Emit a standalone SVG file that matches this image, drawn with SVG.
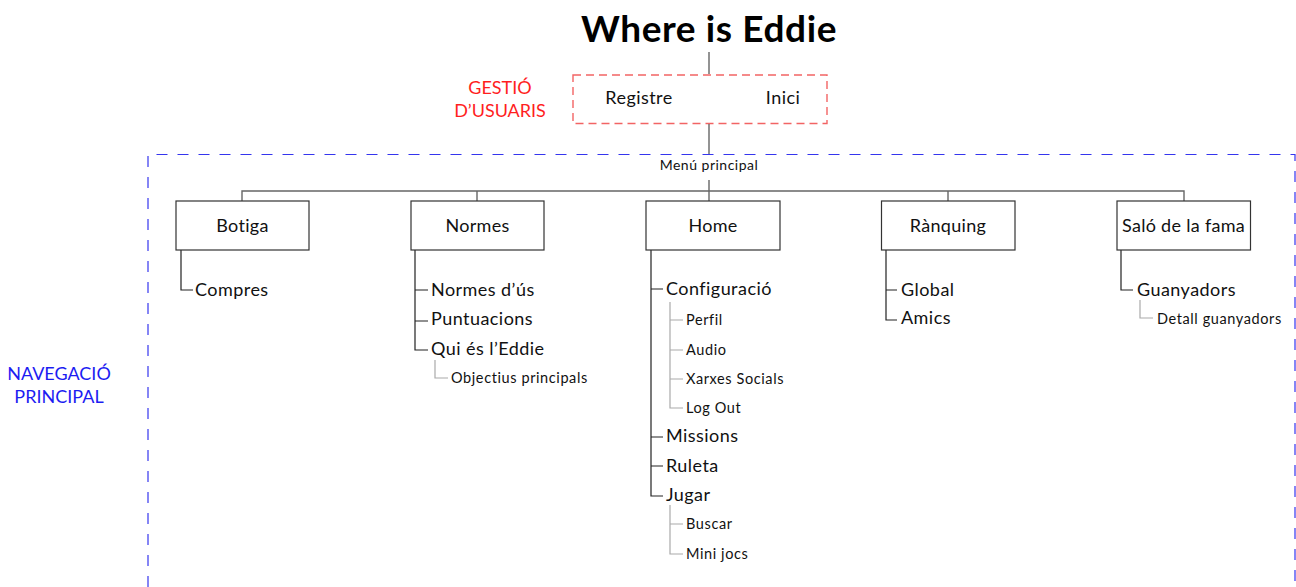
<svg xmlns="http://www.w3.org/2000/svg" width="1296" height="587" viewBox="0 0 1296 587">
<style>
text{font-family:Lato,"Open Sans","Liberation Sans",sans-serif;fill:#111}
.title{font-size:37px;font-weight:bold;text-anchor:middle;fill:#000;letter-spacing:0.6px}
.box{fill:#fff;stroke:#333;stroke-width:1.2}
.bt{font-size:18px;text-anchor:middle;letter-spacing:0.3px}
.c1{font-size:18px;letter-spacing:0.45px}
.c2{font-size:14.5px;letter-spacing:0.6px}
.red{font-size:18px;fill:#ff1e1e;text-anchor:middle}
.blue{font-size:18px;fill:#1c1cf2;text-anchor:middle}
.conn{stroke:#666;stroke-width:1.4;fill:none}
.l1{stroke:#222;stroke-width:1.2;fill:none}
.l2{stroke:#aaa;stroke-width:1.2;fill:none}
</style>
<rect width="1296" height="587" fill="#fff"/>
<g id="title"><text class="title" x="709" y="42">Where is Eddie</text></g>
<g id="gestio">
<rect x="573" y="75" width="254" height="48.5" fill="none" stroke="#f26464" stroke-width="1.4" stroke-dasharray="8 5"/>
<text class="red" x="500" y="94">GESTIÓ</text>
<text class="red" x="500" y="116.5">D’USUARIS</text>
<text class="c1" x="639" y="103.5" text-anchor="middle">Registre</text>
<text class="c1" x="783" y="103.5" text-anchor="middle">Inici</text>
</g>
<g id="navegacio">
<path d="M148 587V154.5H1295V587" fill="none" stroke="#3535ee" stroke-width="1.2" stroke-dasharray="11 10"/>
<text class="blue" x="59" y="379.5">NAVEGACIÓ</text>
<text class="blue" x="59" y="402.5">PRINCIPAL</text>
</g>
<g id="menu"><text x="709" y="170" font-size="14" letter-spacing="0.5" text-anchor="middle">Menú principal</text></g>
<g id="connectors">
<path class="conn" d="M709 52V74M709 124V154M709 180V191M242 201V191H1184V201M477 191V201M709 191V201M948 191V201"/>
<path class="l1" d="M181 250V290H193"/>
<path class="l1" d="M415 250V350H428M415 290H428M415 321H428"/>
<path class="l2" d="M435 360V378H448"/>
<path class="l1" d="M651 250V496H663M651 289H663M651 437H663M651 466H663"/>
<path class="l2" d="M670 302V408H683M670 320H683M670 350H683M670 379H683"/>
<path class="l2" d="M670 505V554H683M670 524H683"/>
<path class="l1" d="M886 250V320H897M886 290H897"/>
<path class="l1" d="M1121 250V290H1133"/>
<path class="l2" d="M1140 300V318H1153"/>
</g>
<g id="botiga">
<rect class="box" x="176" y="201" width="133" height="49"/>
<text class="bt" x="242.5" y="231.5">Botiga</text>
<text class="c1" x="195" y="296">Compres</text>
</g>
<g id="normes">
<rect class="box" x="411" y="201" width="133" height="49"/>
<text class="bt" x="477.5" y="231.5">Normes</text>
<text class="c1" x="431" y="296">Normes d’ús</text>
<text class="c1" x="431" y="324.5">Puntuacions</text>
<text class="c1" x="431" y="354.5">Qui és l’Eddie</text>
<text class="c2" x="451" y="383">Objectius principals</text>
</g>
<g id="home">
<rect class="box" x="646" y="201" width="134" height="49"/>
<text class="bt" x="713" y="231.5">Home</text>
<text class="c1" x="666" y="295">Configuració</text>
<text class="c2" x="686" y="325">Perfil</text>
<text class="c2" x="686" y="355">Audio</text>
<text class="c2" x="686" y="384">Xarxes Socials</text>
<text class="c2" x="686" y="413">Log Out</text>
<text class="c1" x="666" y="442">Missions</text>
<text class="c1" x="666" y="471.5">Ruleta</text>
<text class="c1" x="666" y="501">Jugar</text>
<text class="c2" x="686" y="529">Buscar</text>
<text class="c2" x="686" y="559">Mini jocs</text>
</g>
<g id="ranquing">
<rect class="box" x="881.5" y="201" width="133.5" height="49"/>
<text class="bt" x="948" y="231.5">Rànquing</text>
<text class="c1" x="901" y="295.5">Global</text>
<text class="c1" x="901" y="324">Amics</text>
</g>
<g id="salo">
<rect class="box" x="1117" y="201" width="133.5" height="49"/>
<text class="bt" x="1183.5" y="231.5">Saló de la fama</text>
<text class="c1" x="1137" y="296">Guanyadors</text>
<text class="c2" x="1157" y="324">Detall guanyadors</text>
</g>
</svg>
